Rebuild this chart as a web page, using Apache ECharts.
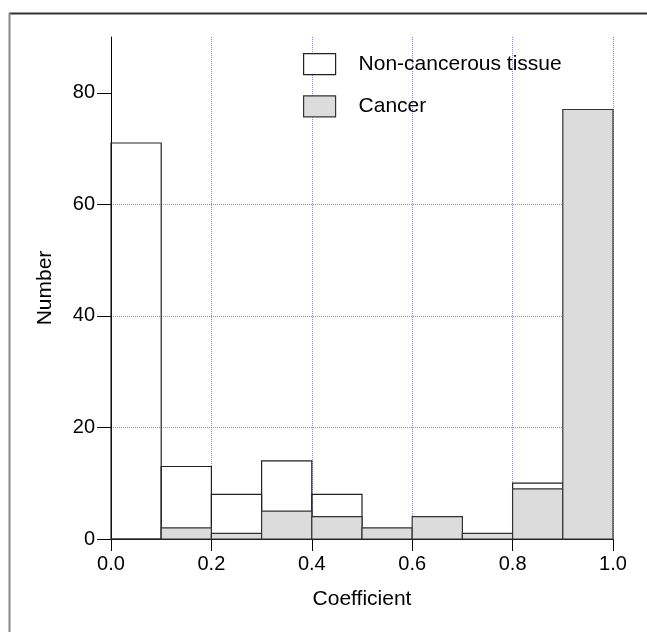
<!DOCTYPE html>
<html>
<head>
<meta charset="utf-8">
<script src="https://cdn.jsdelivr.net/npm/echarts@6/dist/echarts.min.js"></script>
<style>
    html, body { margin: 0; padding: 0; background: #fff; }
    #main { width: 647px; height: 632px; }
</style>
</head>
<body>
<div id="main"></div>
<script>
// histogram bins (coefficient)
var binStart = [0.0, 0.1, 0.2, 0.3, 0.4, 0.5, 0.6, 0.7, 0.8, 0.9];
var binEnd   = [0.1, 0.2, 0.3, 0.4, 0.5, 0.6, 0.7, 0.8, 0.9, 1.0];
// counts per bin
var nonCancerous = [71, 13, 8, 14, 8, 0, 0, 0, 10, 0];
var cancer       = [0, 2, 1, 5, 4, 2, 4, 1, 9, 77];
var yTicks = [0, 20, 40, 60, 80];

var font = "'Liberation Sans', Arial, sans-serif";
var gridColor = '#8c8cdc';

function toData(counts) {
    var out = [];
    for (var i = 0; i < counts.length; i++) {
        out.push([binStart[i], binEnd[i], counts[i]]);
    }
    return out;
}

// one rect per bin, from the axis scales
function binRenderer(fill, stroke) {
    return function (params, api) {
        var p0 = api.coord([api.value(0), api.value(2)]);
        var p1 = api.coord([api.value(1), 0]);
        return {
            type: 'rect',
            shape: { x: p0[0], y: p0[1], width: p1[0] - p0[0], height: p1[1] - p0[1] },
            style: { fill: fill, stroke: stroke, lineWidth: 1.2 }
        };
    };
}

var myChart = echarts.init(document.getElementById('main'));

option = {
    backgroundColor: '#fff',
    animation: false,
    textStyle: { fontFamily: font },
    grid: {
        left: 111,
        right: 34,
        top: 37,
        bottom: 93
    },
    legend: {
        orient: 'vertical',
        left: 303,
        top: 53,
        padding: 0,
        itemWidth: 32,
        itemHeight: 21,
        itemGap: 20,
        icon: 'rect',
        textStyle: { fontSize: 21, color: '#000', fontFamily: font, padding: [0, 0, 0, 18] },
        data: [
            { name: 'Non-cancerous tissue', itemStyle: { color: '#fff', borderColor: '#222', borderWidth: 1.2 } },
            { name: 'Cancer', itemStyle: { color: '#dcdcdc', borderColor: '#333', borderWidth: 1.2 } }
        ]
    },
    xAxis: {
        type: 'value',
        min: 0,
        max: 1,
        interval: 0.2,
        name: 'Coefficient',
        nameLocation: 'middle',
        nameGap: 50,
        nameTextStyle: { fontSize: 21, color: '#000', fontFamily: font },
        axisLine: { show: true, lineStyle: { color: '#000', width: 1 } },
        axisTick: { show: true, length: 12, lineStyle: { color: '#000' } },
        axisLabel: {
            fontSize: 20,
            color: '#000',
            margin: 15,
            formatter: function (v) { return v.toFixed(1); }
        },
        splitLine: {
            show: true,
            showMinLine: false,
            lineStyle: { color: gridColor, type: 'dotted', width: 1 }
        }
    },
    yAxis: {
        type: 'value',
        min: 0,
        max: 90,
        interval: 20,
        name: 'Number',
        nameLocation: 'middle',
        nameGap: 55,
        nameTextStyle: { fontSize: 21, color: '#000', fontFamily: font },
        axisLine: { show: true, lineStyle: { color: '#000', width: 1 } },
        axisTick: { show: true, length: 14, customValues: yTicks, lineStyle: { color: '#000' } },
        axisLabel: {
            fontSize: 20,
            color: '#000',
            margin: 16,
            customValues: yTicks,
            formatter: function (v) { return v === 90 ? '' : v; }
        },
        splitLine: {
            show: true,
            showMinLine: false,
            showMaxLine: false,
            lineStyle: { color: gridColor, type: 'dotted', width: 1 }
        }
    },
    graphic: [
        { type: 'line', shape: { x1: 9, y1: 13.5, x2: 647, y2: 13.5 }, style: { stroke: '#333', lineWidth: 2 }, silent: true },
        { type: 'line', shape: { x1: 9.5, y1: 13, x2: 9.5, y2: 632 }, style: { stroke: '#888', lineWidth: 2 }, silent: true }
    ],
    series: [
        {
            name: 'Non-cancerous tissue',
            type: 'custom',
            renderItem: binRenderer('none', '#222'),
            encode: { x: [0, 1], y: 2 },
            itemStyle: { color: '#fff', borderColor: '#222' },
            data: toData(nonCancerous)
        },
        {
            name: 'Cancer',
            type: 'custom',
            renderItem: binRenderer('#dcdcdc', '#333'),
            encode: { x: [0, 1], y: 2 },
            itemStyle: { color: '#dcdcdc', borderColor: '#333' },
            data: toData(cancer)
        }
    ]
};
myChart.setOption(option);
</script>
</body>
</html>
